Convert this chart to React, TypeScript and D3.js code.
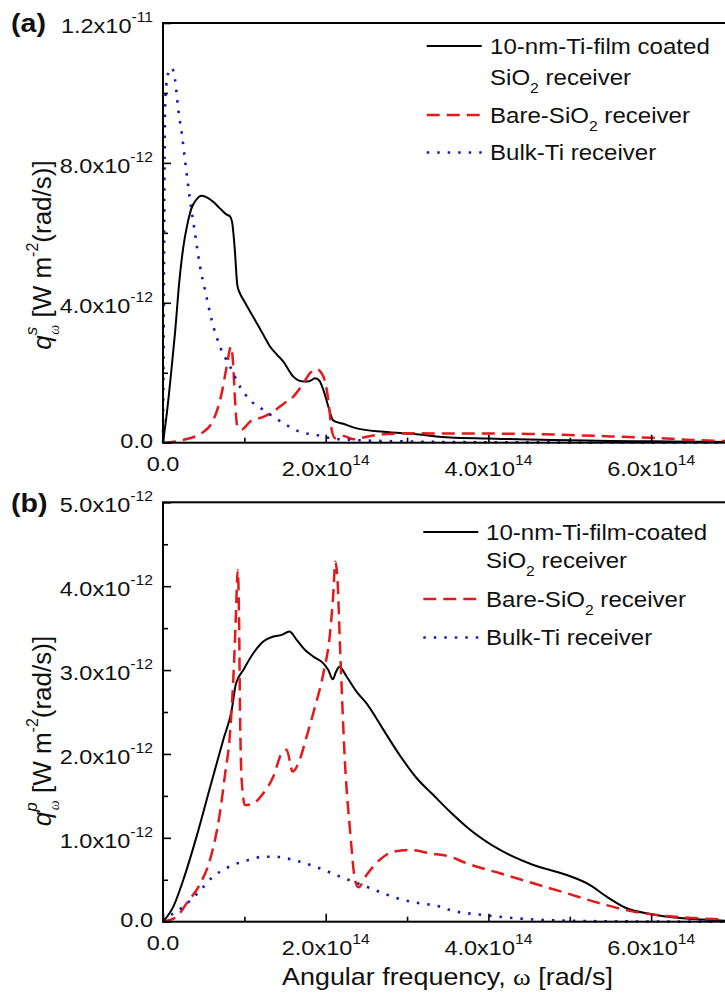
import React, { useEffect, useRef } from "react";
import * as d3 from "d3";

// omega in units of 1e14 rad/s, q in units of 1e-12 W m^-2 (rad/s)^-1

// panel (a), s polarisation
const aFilmW = [0, 0.05, 0.1, 0.15, 0.2, 0.25, 0.3, 0.35, 0.41, 0.475, 0.55, 0.62, 0.7, 0.783, 0.824, 0.85, 0.88, 0.914, 0.95, 0.988, 1.07, 1.152, 1.235, 1.315, 1.4, 1.479, 1.602, 1.725, 1.8, 1.868, 1.92, 1.971, 2.03, 2.094, 2.216, 2.381, 2.708, 3.119, 3.528, 4.0, 4.5, 5.0, 5.5, 6.0, 6.5, 7.0];
const aFilmQ = [0, 0.9, 2.0, 3.2, 4.6, 5.6, 6.25, 6.7, 6.95, 7.06, 7.0, 6.88, 6.7, 6.52, 6.47, 6.3, 5.6, 4.5, 4.25, 4.09, 3.75, 3.42, 3.08, 2.75, 2.52, 2.32, 1.89, 1.75, 1.76, 1.84, 1.78, 1.51, 1.05, 0.63, 0.54, 0.41, 0.31, 0.24, 0.15, 0.12, 0.09, 0.07, 0.05, 0.04, 0.03, 0.02];

const aBareW = [0, 0.25, 0.496, 0.619, 0.721, 0.783, 0.836, 0.864, 0.885, 0.914, 0.967, 1.069, 1.233, 1.356, 1.479, 1.602, 1.725, 1.807, 1.889, 1.971, 2.032, 2.074, 2.114, 2.216, 2.339, 2.504, 2.708, 3.119, 3.528, 4.0, 4.5, 5.0, 5.5, 6.0, 6.5, 7.0];
const aBareQ = [0, 0.08, 0.31, 0.65, 1.41, 2.18, 2.75, 2.18, 1.22, 0.46, 0.38, 0.6, 0.74, 0.89, 1.11, 1.32, 1.7, 1.99, 2.1, 1.89, 1.22, 0.36, 0.13, 0.19, 0.1, 0.17, 0.24, 0.27, 0.26, 0.26, 0.25, 0.22, 0.18, 0.14, 0.08, 0.04];

const aBulkW = [0, 0.008, 0.016, 0.025, 0.04, 0.07, 0.107, 0.148, 0.188, 0.23, 0.27, 0.332, 0.393, 0.455, 0.516, 0.598, 0.7, 0.824, 0.947, 1.069, 1.233, 1.479, 1.684, 1.889, 2.053, 2.299, 2.7, 3.5, 4.5, 5.5, 7.0];
const aBulkQ = [0, 3.0, 7.0, 9.5, 10.2, 10.6, 10.72, 10.38, 9.52, 8.86, 8.09, 6.95, 5.99, 5.04, 4.37, 3.51, 2.75, 2.18, 1.6, 1.22, 0.94, 0.56, 0.31, 0.22, 0.13, 0.08, 0.05, 0.02, 0.01, 0.005, 0];

// panel (b), p polarisation
const bFilmW = [0, 0.127, 0.25, 0.414, 0.578, 0.741, 0.844, 0.897, 0.987, 1.11, 1.233, 1.356, 1.459, 1.553, 1.643, 1.746, 1.848, 1.971, 2.032, 2.086, 2.127, 2.168, 2.258, 2.381, 2.504, 2.708, 2.913, 3.119, 3.323, 3.528, 3.733, 4.143, 4.552, 4.963, 5.249, 5.454, 5.7, 5.986, 6.396, 7.0];
const bFilmQ = [0, 0.18, 0.5, 1.02, 1.6, 2.17, 2.52, 2.84, 3.0, 3.2, 3.34, 3.4, 3.42, 3.46, 3.36, 3.24, 3.16, 3.08, 3.0, 2.89, 2.98, 3.04, 2.92, 2.74, 2.6, 2.29, 1.98, 1.71, 1.51, 1.31, 1.13, 0.855, 0.676, 0.557, 0.437, 0.298, 0.16, 0.092, 0.04, 0.01];

const bBareW = [0, 0.168, 0.291, 0.455, 0.578, 0.7, 0.762, 0.824, 0.873, 0.897, 0.918, 0.934, 0.947, 0.967, 1.008, 1.11, 1.233, 1.356, 1.459, 1.52, 1.594, 1.664, 1.766, 1.868, 1.971, 2.053, 2.094, 2.118, 2.143, 2.176, 2.237, 2.299, 2.36, 2.401, 2.504, 2.667, 2.831, 3.036, 3.282, 3.528, 3.733, 4.143, 4.552, 4.963, 5.372, 5.781, 6.19, 7.0];
const bBareQ = [0, 0.06, 0.22, 0.45, 0.74, 1.3, 1.75, 2.25, 3.08, 3.68, 4.19, 3.68, 2.48, 1.69, 1.39, 1.41, 1.53, 1.73, 2.01, 2.05, 1.79, 1.89, 2.21, 2.56, 2.96, 3.44, 3.92, 4.29, 4.11, 3.28, 1.89, 1.09, 0.5, 0.41, 0.56, 0.74, 0.835, 0.855, 0.815, 0.775, 0.696, 0.577, 0.458, 0.339, 0.219, 0.12, 0.068, 0.025];

const bBulkW = [0, 0.127, 0.209, 0.332, 0.455, 0.619, 0.783, 0.926, 1.069, 1.233, 1.377, 1.52, 1.684, 1.848, 2.012, 2.176, 2.34, 2.504, 2.708, 2.913, 3.119, 3.405, 3.528, 3.937, 4.348, 4.963, 5.5, 7.0];
const bBulkQ = [0, 0.1, 0.15, 0.25, 0.37, 0.54, 0.64, 0.7, 0.74, 0.775, 0.775, 0.755, 0.715, 0.664, 0.604, 0.537, 0.477, 0.417, 0.338, 0.27, 0.227, 0.179, 0.139, 0.08, 0.04, 0.012, 0.005, 0];

// ticks and labels
const xTicks = [0, 2, 4, 6];
const xMinor = [1, 3, 5];
const xLabels = [["0.0", ""], ["2.0x10", "14"], ["4.0x10", "14"], ["6.0x10", "14"]];

const aYTicks = [0, 4, 8, 12];
const aYMinor = [2, 6, 10];
const aYLabels = [["0.0", ""], ["4.0x10", "-12"], ["8.0x10", "-12"], ["1.2x10", "-11"]];

const bYTicks = [0, 1, 2, 3, 4, 5];
const bYMinor = [0.5, 1.5, 2.5, 3.5, 4.5];
const bYLabels = [["0.0", ""], ["1.0x10", "-12"], ["2.0x10", "-12"], ["3.0x10", "-12"], ["4.0x10", "-12"], ["5.0x10", "-12"]];

// legend text: odd pieces are subscripts
const aLegend = [
  [["10-nm-Ti-film coated"], ["SiO", "2", " receiver"]],
  [["Bare-SiO", "2", " receiver"]],
  [["Bulk-Ti receiver"]],
];
const bLegend = [
  [["10-nm-Ti-film-coated"], ["SiO", "2", " receiver"]],
  [["Bare-SiO", "2", " receiver"]],
  [["Bulk-Ti receiver"]],
];

const FONT = "'Liberation Sans', Arial, sans-serif";
const SX = 1.12; // text in the figure is a bit wider than plain Arial

const styles = [
  { color: "#000000", width: 2, dash: null },
  { color: "#e3191c", width: 2.5, dash: "13,7" },
  { color: "#1818b8", width: 2.6, dash: "2.5,8" },
];

const panels = [
  {
    tag: "(a)", tagY: 32, top: 23, bottom: 442.7, yMax: 12,
    yTicks: aYTicks, yMinor: aYMinor, yLabels: aYLabels, sup: "s", yLabelMid: 255,
    series: [[aFilmW, aFilmQ], [aBareW, aBareQ], [aBulkW, aBulkQ]],
    legend: aLegend, legLine: [426.7, 481.7], legText: 490,
    legRows: [46, 115, 152.5], legLineGap: 31,
  },
  {
    tag: "(b)", tagY: 512, top: 502.3, bottom: 921.7, yMax: 5,
    yTicks: bYTicks, yMinor: bYMinor, yLabels: bYLabels, sup: "p", yLabelMid: 731,
    series: [[bFilmW, bFilmQ], [bBareW, bBareQ], [bBulkW, bBulkQ]],
    legend: bLegend, legLine: [423.3, 478.3], legText: 486,
    legRows: [532, 599, 637.5], legLineGap: 28,
  },
];

// horizontal text, parts = [{text, dy, size, family}]
function hText(parent, x, y, anchor, size, parts, extra = {}) {
  const t = parent
    .append("g")
    .attr("transform", `translate(${x},${y}) scale(${SX},1)`)
    .append("text")
    .attr("text-anchor", anchor)
    .attr("font-family", extra.family || FONT)
    .attr("font-size", size)
    .attr("font-weight", extra.weight || "normal")
    .style("white-space", "pre")
    .attr("fill", "#111");
  let cur = 0;
  parts.forEach((p) => {
    if (!p.text) return;
    const s = t.append("tspan").text(p.text);
    if (p.size) s.attr("font-size", p.size);
    if (p.family) s.attr("font-family", p.family);
    const want = p.dy || 0;
    if (want !== cur) s.attr("dy", want - cur);
    cur = want;
  });
  return t;
}

const App = () => {
  const ref = useRef(null);

  useEffect(() => {
    const svg = d3.select(ref.current);
    svg.selectAll("*").remove();

    const left = 163;
    const right = 732.5;
    const x = d3.scaleLinear().domain([0, 7]).range([left, right]);

    panels.forEach((p) => {
      const y = d3.scaleLinear().domain([0, p.yMax]).range([p.bottom, p.top]);
      const g = svg.append("g");

      // curves
      const line = d3
        .line()
        .x((d) => x(d[0]))
        .y((d) => y(d[1]))
        .curve(d3.curveMonotoneX);

      p.series.forEach(([w, q], i) => {
        const st = styles[i];
        const pts = w.map((v, j) => [v, q[j]]);
        g.append("path")
          .attr("d", line(pts))
          .attr("fill", "none")
          .attr("stroke", st.color)
          .attr("stroke-width", st.width)
          .attr("stroke-dasharray", st.dash)
          .attr("stroke-linejoin", "round");
      });

      // frame
      g.append("rect")
        .attr("x", left)
        .attr("y", p.top)
        .attr("width", right - left)
        .attr("height", p.bottom - p.top)
        .attr("fill", "none")
        .attr("stroke", "#000")
        .attr("stroke-width", 2);

      // inward ticks
      const tickGroup = (axis, transform) => {
        const a = g.append("g").attr("transform", transform).call(axis);
        a.select(".domain").remove();
        a.selectAll("text").remove();
        a.selectAll("line").attr("stroke", "#000").attr("stroke-width", 1.6);
      };
      tickGroup(d3.axisBottom(x).tickValues(xTicks).tickSize(-8), `translate(0,${p.bottom})`);
      tickGroup(d3.axisBottom(x).tickValues(xMinor).tickSize(-5), `translate(0,${p.bottom})`);
      tickGroup(d3.axisLeft(y).tickValues(p.yTicks).tickSize(-8), `translate(${left},0)`);
      tickGroup(d3.axisLeft(y).tickValues(p.yMinor).tickSize(-5), `translate(${left},0)`);

      // y tick labels
      p.yTicks.forEach((v, i) => {
        const [m, e] = p.yLabels[i];
        const by = y(v) + (e ? 10 : 5);
        hText(g, 153, by, "end", 21, [{ text: m }, { text: e, dy: -11, size: 14 }]);
      });

      // x tick labels
      xTicks.forEach((v, i) => {
        const [m, e] = xLabels[i];
        const by = p.bottom + (e ? 33 : 28);
        hText(g, x(v), by, "middle", 21, [{ text: m }, { text: e, dy: -11, size: 14 }]);
      });

      // panel tag
      hText(g, 11, p.tagY, "start", 25.5, [{ text: p.tag }], { weight: "bold" });

      // y axis title
      const yl = g
        .append("text")
        .attr("transform", `translate(51,${p.yLabelMid}) rotate(-90)`)
        .attr("text-anchor", "middle")
        .attr("font-family", FONT)
        .attr("font-size", 26)
        .style("white-space", "pre")
        .attr("fill", "#111");
      yl.append("tspan").attr("font-style", "italic").text("q");
      yl.append("tspan").attr("font-style", "italic").attr("font-size", 17).attr("dy", -14).text(p.sup);
      yl.append("tspan")
        .attr("font-family", "'Liberation Serif', serif")
        .attr("font-style", "italic")
        .attr("font-size", 14)
        .attr("dx", -8)
        .attr("dy", 22)
        .text("\u03c9");
      yl.append("tspan").attr("dy", -8).text(" [W m");
      yl.append("tspan").attr("font-size", 16).attr("dy", -13).text("-2");
      yl.append("tspan").attr("dy", 13).text("(rad/s)]");

      // legend
      p.legend.forEach((rows, i) => {
        const cy = p.legRows[i];
        const st = styles[i];
        g.append("line")
          .attr("x1", p.legLine[0])
          .attr("x2", p.legLine[1])
          .attr("y1", cy)
          .attr("y2", cy)
          .attr("stroke", st.color)
          .attr("stroke-width", st.width)
          .attr("stroke-dasharray", st.dash);
        rows.forEach((pieces, r) => {
          const parts = pieces.map((txt, k) =>
            k % 2 === 1 ? { text: txt, dy: 8, size: 14 } : { text: txt, dy: 0 }
          );
          hText(g, p.legText, cy + 7.5 + r * p.legLineGap, "start", 21.5, parts);
        });
      });
    });

    // x axis title
    hText(svg, 447.5, 985, "middle", 24, [
      { text: "Angular frequency, " },
      { text: "\u03c9", family: "'Liberation Serif', serif" },
      { text: " [rad/s]" },
    ]);
  }, []);

  return (
    <svg
      ref={ref}
      width={725}
      height={995}
      style={{ position: "absolute", left: 0, top: 0, background: "#fff" }}
    />
  );
};

export default App;
